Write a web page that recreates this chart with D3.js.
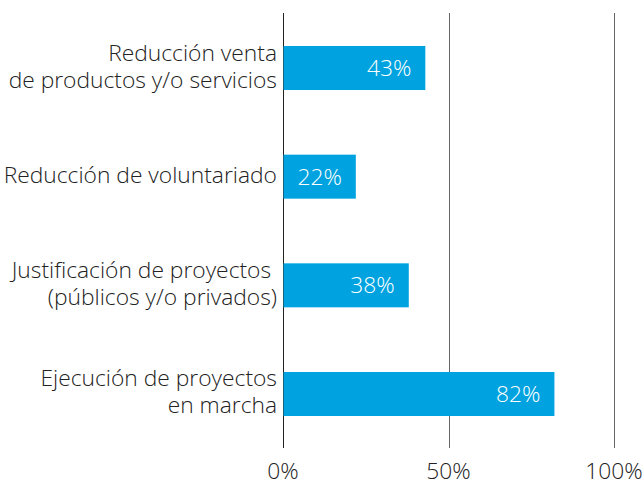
<!DOCTYPE html>
<html><head><meta charset="utf-8">
<script src="https://cdn.jsdelivr.net/npm/d3@7"></script>
<style>body{margin:0;background:#fff}svg{display:block}text{font-family:"Open Sans";font-weight:300}</style>
</head><body>
<svg id="c" width="644" height="479"></svg>
<script>
const categories = [
  ["Reducción venta", "de productos y/o servicios"],
  ["Reducción de voluntariado"],
  ["Justificación de proyectos\u00a0", "(públicos y/o privados)"],
  ["Ejecución de proyectos", "en marcha"]
];
const values = [43, 22, 38, 82];
const ticks = [0, 50, 100];

const svg = d3.select("#c");
const fs = 22.8;
const x = d3.scaleLinear().domain([0, 100]).range([283, 614]);
const y = d3.scaleBand().domain(d3.range(categories.length)).range([13.67, 448.33]).paddingInner(0.595).paddingOuter(0.2975);

// gridlines
svg.append("g").selectAll("line").data(ticks).join("line")
  .attr("x1", d => Math.round(x(d)) + 0.5).attr("x2", d => Math.round(x(d)) + 0.5)
  .attr("y1", 13).attr("y2", 448)
  .attr("stroke", d => d === 0 ? "#222" : "#666").attr("stroke-width", 1);

// bars
svg.append("g").selectAll("rect").data(values).join("rect")
  .attr("x", x(0) + 0.5).attr("y", (d, i) => y(i))
  .attr("width", d => x(d) - x(0) - 0.5).attr("height", y.bandwidth())
  .attr("fill", "#00A3E0");

// value labels
svg.append("g").selectAll("text").data(values).join("text")
  .attr("x", d => x(d) - 14).attr("y", (d, i) => y(i) + y.bandwidth() / 2 + 8)
  .attr("text-anchor", "end")
  .attr("fill", "#fff").attr("font-size", fs)
  .text(d => d + "%");

// category labels
const lh = 27;
const cat = svg.append("g").selectAll("text").data(categories).join("text")
  .attr("text-anchor", "end").attr("font-size", fs).attr("fill", "#222")
  .attr("x", 277)
  .attr("y", (d, i) => y(i) + y.bandwidth() / 2);
cat.each(function(d) {
  const t = d3.select(this);
  const n = d.length;
  d.forEach((line, j) => {
    t.append("tspan").attr("x", 277)
      .attr("dy", j === 0 ? ((-(n - 1) / 2) * lh + 6) : lh)
      .text(line);
  });
});

// x axis tick labels
svg.append("g").selectAll("text").data(ticks).join("text")
  .attr("x", d => x(d)).attr("y", 478.5)
  .attr("text-anchor", "middle").attr("font-size", fs).attr("fill", "#222")
  .text(d => d + "%");
</script>
</body></html>
